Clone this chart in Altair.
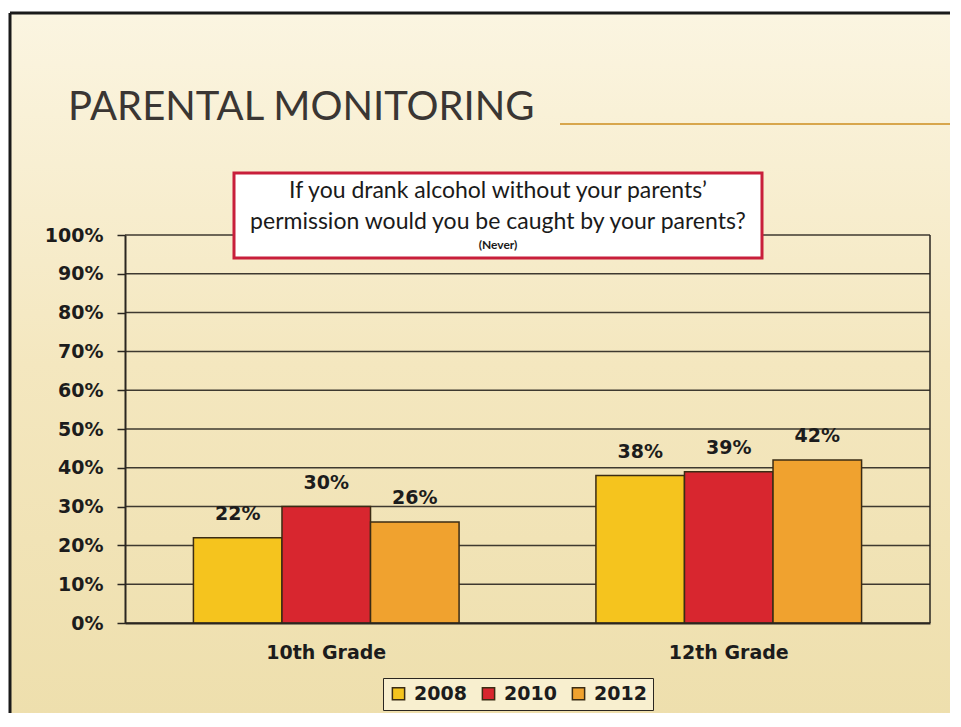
import altair as alt
import pandas as pd

# ---- data ----
grades = ["10th Grade", "12th Grade"]
years = ["2008", "2010", "2012"]
pct_10th = [22, 30, 26]
pct_12th = [38, 39, 42]
bar_colors = ["#F5C41E", "#D8262F", "#F0A22F"]
y_ticks = [0, 10, 20, 30, 40, 50, 60, 70, 80, 90, 100]

title_text = "PARENTAL MONITORING"
question_1 = "If you drank alcohol without your parents\u2019"
question_2 = "permission would you be caught by your parents?"
question_3 = "(Never)"

rows = []
for g, vals in zip(grades, [pct_10th, pct_12th]):
    for yr, v in zip(years, vals):
        rows.append({"grade": g, "year": yr, "value": v, "label": f"{v}%"})
df = pd.DataFrame(rows)
grid_df = pd.DataFrame({"value": y_ticks})
one = pd.DataFrame({"a": [0]})

W, H = 805, 388
DARK = "#2a2620"
LABEL_FONT = "DejaVu Sans"

y_scale = alt.Scale(domain=[0, 100], nice=False)

x_enc = alt.X("grade:N", sort=grades,
              scale=alt.Scale(paddingInner=0.34, paddingOuter=0.17),
              axis=alt.Axis(title=None, labelAngle=0, ticks=False, tickSize=0,
                            labelPadding=20, labelFont=LABEL_FONT, labelFontSize=19,
                            labelFontWeight="bold", labelColor="#1c1c1c",
                            domainColor=DARK, domainWidth=2, grid=False, zindex=1))
xo_enc = alt.XOffset("year:N", sort=years, scale=alt.Scale(paddingInner=0, paddingOuter=0))
y_enc = alt.Y("value:Q", scale=y_scale,
              axis=alt.Axis(title=None, values=y_ticks, labelExpr="datum.value + '%'",
                            tickSize=8, tickColor=DARK, tickWidth=1.5, labelPadding=14,
                            labelFont=LABEL_FONT, labelFontSize=19, labelFontWeight="bold",
                            labelColor="#1c1c1c", domainColor=DARK, domainWidth=2,
                            grid=False, zindex=1))

bg = alt.Chart(one).mark_rect(
    fill=alt.LinearGradient(gradient="linear", x1=0, y1=0, x2=0, y2=1,
                            stops=[alt.GradientStop(offset=0, color="#fbf5e1"),
                                   alt.GradientStop(offset=0.5, color="#f4e7bf"),
                                   alt.GradientStop(offset=1, color="#eedfad")])
).encode(x=alt.value(-115), x2=alt.value(830), y=alt.value(-222), y2=alt.value(480))

border = alt.Chart(one).mark_rule(color="#1a1a1a", strokeWidth=3).encode(
    x=alt.value(-115), x2=alt.value(830), y=alt.value(-222))
border_l = alt.Chart(one).mark_rule(color="#1a1a1a", strokeWidth=3).encode(
    x=alt.value(-115), y=alt.value(-222), y2=alt.value(480))

title = alt.Chart(one).mark_text(text=title_text, font="Lato", fontSize=40, color="#3a3633",
                                 align="left", baseline="alphabetic").encode(
    x=alt.value(-57), y=alt.value(-115))
title_line = alt.Chart(one).mark_rule(color="#d8a64c", strokeWidth=2).encode(
    x=alt.value(435), x2=alt.value(830), y=alt.value(-111))

grid = alt.Chart(grid_df).mark_rule(color=DARK, strokeWidth=1.5, opacity=0.9).encode(
    y=y_enc, x=alt.value(0), x2=alt.value(W))
right_edge = alt.Chart(one).mark_rule(color=DARK, strokeWidth=1.5).encode(
    x=alt.value(W), y=alt.value(0), y2=alt.value(H))

bars = alt.Chart(df).mark_bar(stroke="#3b2c14", strokeWidth=1.5).encode(
    x=x_enc, xOffset=xo_enc, y=y_enc,
    color=alt.Color("year:N", sort=years, scale=alt.Scale(domain=years, range=bar_colors),
                    legend=alt.Legend(title=None, orient="none", legendX=258, legendY=443,
                                      direction="horizontal", strokeColor=DARK,
                                      fillColor="#f8efcf", padding=6, symbolType="square",
                                      symbolSize=150, symbolStrokeColor="#3b2c14",
                                      symbolStrokeWidth=1.5, symbolOpacity=1,
                                      labelFont=LABEL_FONT, labelFontSize=19,
                                      labelFontWeight="bold", labelColor="#1c1c1c",
                                      labelOffset=6, columnPadding=12)))

labels = alt.Chart(df).mark_text(dy=-24, font=LABEL_FONT, fontSize=19, fontWeight="bold",
                                 color="#1c1c1c").encode(
    x=x_enc, xOffset=xo_enc, y=y_enc, text="label:N")

box = alt.Chart(one).mark_rect(fill="white", stroke="#c81f3b", strokeWidth=3).encode(
    x=alt.value(109), x2=alt.value(637), y=alt.value(-62), y2=alt.value(23))
q1 = alt.Chart(one).mark_text(text=question_1, font="Lato", fontSize=23, color="#1a1a1a").encode(
    x=alt.value(373), y=alt.value(-44))
q2 = alt.Chart(one).mark_text(text=question_2, font="Lato", fontSize=23, color="#1a1a1a").encode(
    x=alt.value(373), y=alt.value(-13))
q3 = alt.Chart(one).mark_text(text=question_3, font="Lato", fontSize=12, fontWeight="bold",
                              color="#1a1a1a").encode(x=alt.value(373), y=alt.value(10))

chart = alt.layer(bg, border, border_l, title, title_line, grid, right_edge, bars, labels,
                  box, q1, q2, q3).properties(
    width=W, height=H,
    padding={"left": 117, "top": 227, "right": 20, "bottom": 90},
    autosize=alt.AutoSizeParams(type="none"),
    background="white",
).configure_view(stroke=None)

chart.save("out.html", embed_options={"renderer": "svg", "actions": False})
